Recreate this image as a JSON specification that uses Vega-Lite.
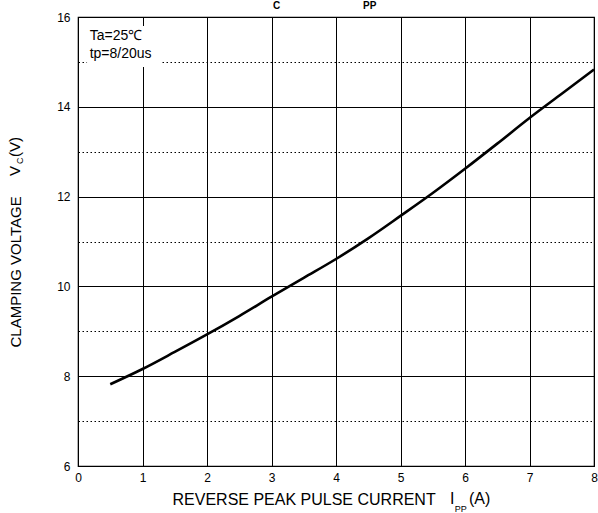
{
  "$schema": "https://vega.github.io/schema/vega-lite/v6.json",
  "width": 516,
  "height": 449,
  "autosize": "none",
  "padding": {"left": 78, "top": 17, "right": 4, "bottom": 47},
  "background": "white",
  "config": {
    "view": {"stroke": "black", "strokeWidth": 1.2},
    "font": "Liberation Sans",
    "text": {"font": "Liberation Sans", "fill": "black", "fontWeight": "normal"}
  },
  "layer": [
    {
      "data": {
        "values": [
          {"current": 0.5, "voltage": 7.82},
          {"current": 1.0, "voltage": 8.16},
          {"current": 1.5, "voltage": 8.54},
          {"current": 2.0, "voltage": 8.93},
          {"current": 2.5, "voltage": 9.34},
          {"current": 3.0, "voltage": 9.77},
          {"current": 3.5, "voltage": 10.19},
          {"current": 4.0, "voltage": 10.61},
          {"current": 4.5, "voltage": 11.07},
          {"current": 5.0, "voltage": 11.57},
          {"current": 5.5, "voltage": 12.08},
          {"current": 6.0, "voltage": 12.62},
          {"current": 6.5, "voltage": 13.18},
          {"current": 7.0, "voltage": 13.75},
          {"current": 7.5, "voltage": 14.29},
          {"current": 8.0, "voltage": 14.83}
        ]
      },
      "mark": {"type": "line", "color": "black", "strokeWidth": 2.6, "interpolate": "monotone"},
      "encoding": {
        "x": {
          "field": "current", "type": "quantitative",
          "scale": {"domain": [0, 8], "nice": false, "zero": false},
          "axis": {
            "values": [0, 0.5, 1, 1.5, 2, 2.5, 3, 3.5, 4, 4.5, 5, 5.5, 6, 6.5, 7, 7.5, 8],
            "format": "d",
            "labelExpr": "datum.value % 1 === 0 ? datum.label : ''",
            "labelFont": "Liberation Sans", "labelFontSize": 12, "labelColor": "black", "labelPadding": 6, "labelFlush": false,
            "ticks": false, "domain": false,
            "grid": true, "gridColor": "black", "gridOpacity": 1, "gridWidth": 1,
            "gridDash": {"condition": {"test": "datum.value % 1 !== 0", "value": [1.5, 2.5]}, "value": []},
            "title": "REVERSE PEAK PULSE CURRENT",
            "titleFont": "Liberation Sans", "titleFontSize": 16, "titleFontWeight": "normal", "titleColor": "black",
            "titleAnchor": "start", "titleAlign": "left", "titleBaseline": "alphabetic", "titleX": 94, "titleY": 38
          }
        },
        "y": {
          "field": "voltage", "type": "quantitative",
          "scale": {"domain": [6, 16], "nice": false, "zero": false},
          "axis": {
            "values": [6, 7, 8, 9, 10, 11, 12, 13, 14, 15, 16],
            "format": "d",
            "labelExpr": "datum.value % 2 === 0 ? datum.label : ''",
            "labelFont": "Liberation Sans", "labelFontSize": 12, "labelColor": "black", "labelPadding": 8,
            "ticks": false, "domain": false,
            "grid": true, "gridColor": "black", "gridOpacity": 1, "gridWidth": 1,
            "gridDash": {"condition": {"test": "datum.value % 2 !== 0", "value": [1.5, 2.5]}, "value": []},
            "title": "CLAMPING VOLTAGE",
            "titleFont": "Liberation Sans", "titleFontSize": 15, "titleFontWeight": "normal", "titleColor": "black",
            "titleAngle": 270, "titleAnchor": "start", "titleAlign": "left", "titleBaseline": "alphabetic", "titleX": -58, "titleY": 330
          }
        }
      }
    },
    {
      "data": {"values": [{}]},
      "mark": {"type": "rect", "fill": "white", "stroke": null},
      "encoding": {
        "x": {"datum": 0.14, "type": "quantitative"},
        "x2": {"datum": 1.29},
        "y": {"datum": 14.886, "type": "quantitative"},
        "y2": {"datum": 15.8}
      }
    },
    {
      "data": {"values": [{}]},
      "mark": {"type": "text", "text": "Ta=25℃", "fontSize": 14, "fontWeight": "normal", "fill": "black", "align": "left", "baseline": "alphabetic"},
      "encoding": {"x": {"datum": 0.181, "type": "quantitative"}, "y": {"datum": 15.488, "type": "quantitative"}}
    },
    {
      "data": {"values": [{}]},
      "mark": {"type": "text", "text": "tp=8/20us", "fontSize": 14, "fontWeight": "normal", "fill": "black", "align": "left", "baseline": "alphabetic"},
      "encoding": {"x": {"datum": 0.181, "type": "quantitative"}, "y": {"datum": 15.087, "type": "quantitative"}}
    },
    {
      "data": {"values": [{}]},
      "mark": {"type": "text", "text": "I", "fontSize": 16, "fontWeight": "normal", "fill": "black", "align": "left", "baseline": "alphabetic"},
      "encoding": {"x": {"datum": 5.767, "type": "quantitative"}, "y": {"datum": 5.154, "type": "quantitative"}}
    },
    {
      "data": {"values": [{}]},
      "mark": {"type": "text", "text": "PP", "fontSize": 9, "fontWeight": "normal", "fill": "black", "align": "left", "baseline": "alphabetic"},
      "encoding": {"x": {"datum": 5.84, "type": "quantitative"}, "y": {"datum": 4.976, "type": "quantitative"}}
    },
    {
      "data": {"values": [{}]},
      "mark": {"type": "text", "text": "(A)", "fontSize": 16, "fontWeight": "normal", "fill": "black", "align": "left", "baseline": "alphabetic"},
      "encoding": {"x": {"datum": 6.062, "type": "quantitative"}, "y": {"datum": 5.154, "type": "quantitative"}}
    },
    {
      "data": {"values": [{}]},
      "mark": {"type": "text", "text": "V", "fontSize": 15, "fontWeight": "normal", "fill": "black", "angle": 270, "align": "left", "baseline": "alphabetic"},
      "encoding": {"x": {"datum": -0.899, "type": "quantitative"}, "y": {"datum": 12.459, "type": "quantitative"}}
    },
    {
      "data": {"values": [{}]},
      "mark": {"type": "text", "text": "C", "fontSize": 9, "fontWeight": "normal", "fill": "black", "angle": 270, "align": "left", "baseline": "alphabetic"},
      "encoding": {"x": {"datum": -0.853, "type": "quantitative"}, "y": {"datum": 12.726, "type": "quantitative"}}
    },
    {
      "data": {"values": [{}]},
      "mark": {"type": "text", "text": "(V)", "fontSize": 15, "fontWeight": "normal", "fill": "black", "angle": 270, "align": "left", "baseline": "alphabetic"},
      "encoding": {"x": {"datum": -0.899, "type": "quantitative"}, "y": {"datum": 12.882, "type": "quantitative"}}
    },
    {
      "data": {"values": [{}]},
      "mark": {"type": "text", "text": "C", "fontSize": 10, "fontWeight": "bold", "fill": "black", "align": "left", "baseline": "alphabetic"},
      "encoding": {"x": {"datum": 3.023, "type": "quantitative"}, "y": {"datum": 16.171, "type": "quantitative"}}
    },
    {
      "data": {"values": [{}]},
      "mark": {"type": "text", "text": "PP", "fontSize": 10, "fontWeight": "bold", "fill": "black", "align": "left", "baseline": "alphabetic"},
      "encoding": {"x": {"datum": 4.419, "type": "quantitative"}, "y": {"datum": 16.171, "type": "quantitative"}}
    }
  ]
}
